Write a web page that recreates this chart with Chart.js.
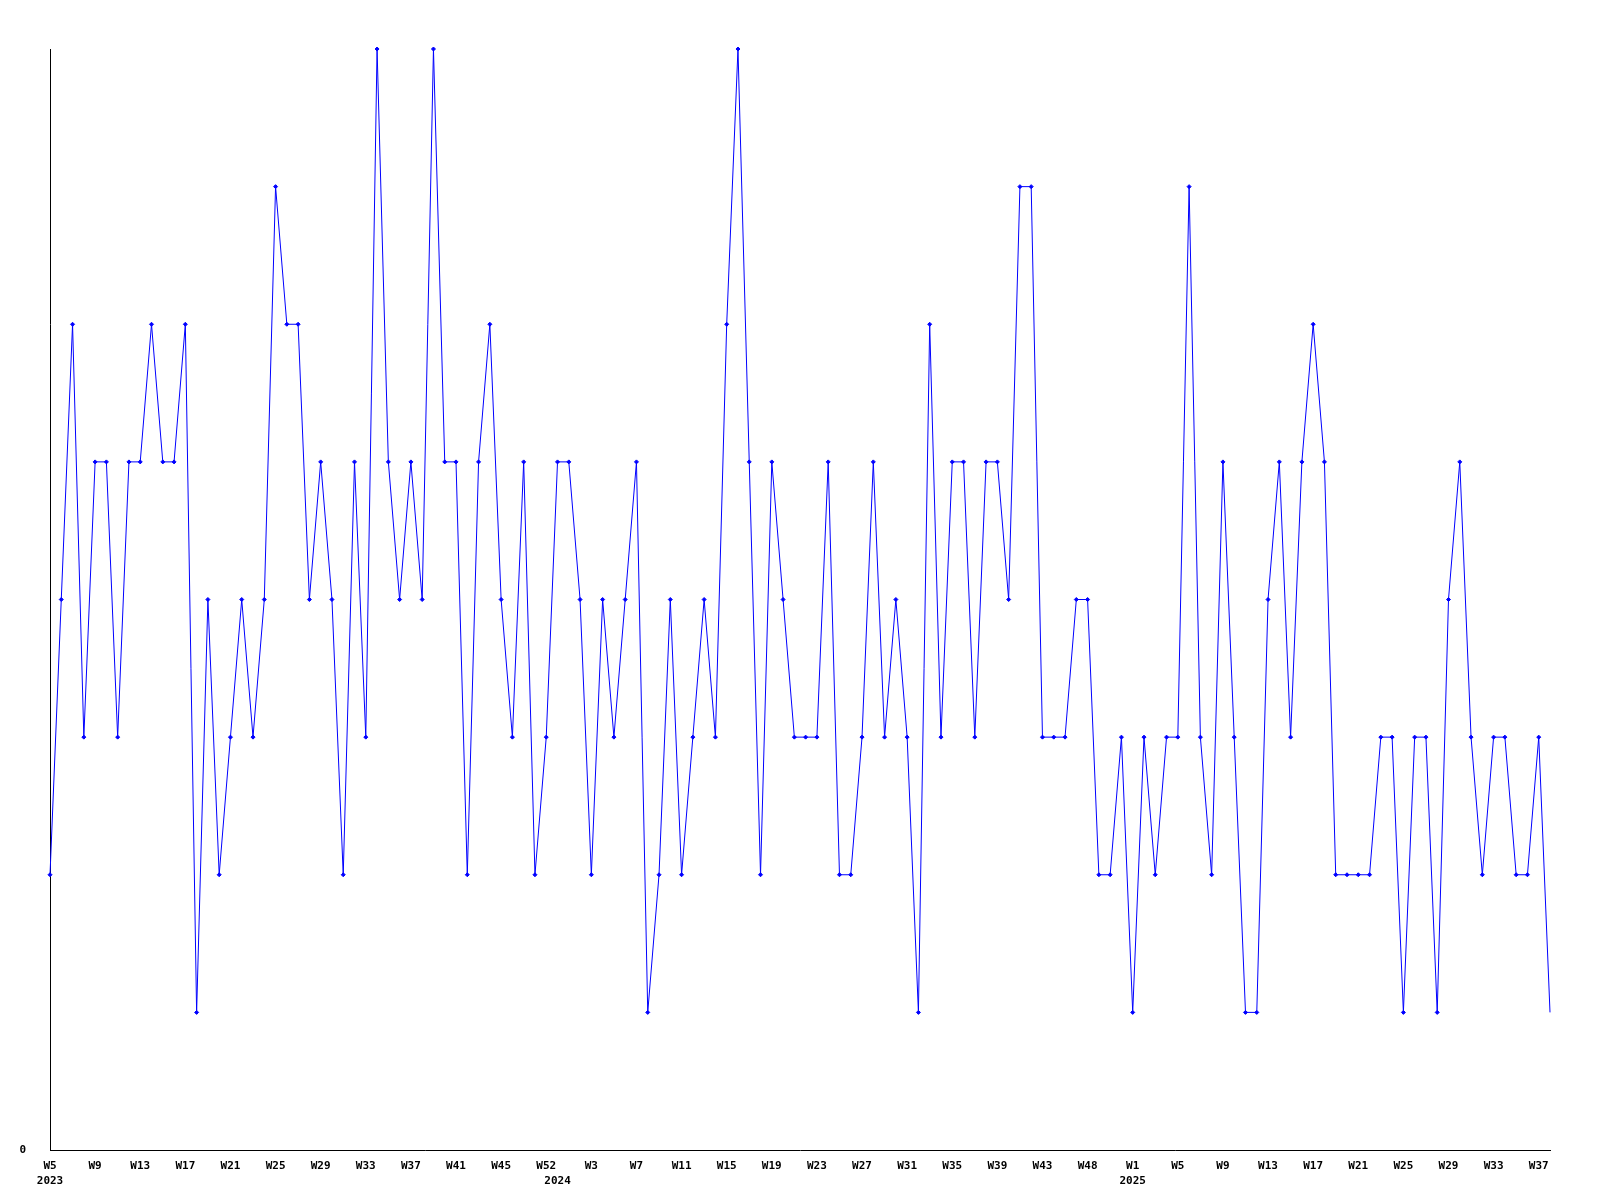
<!DOCTYPE html>
<html>
<head>
<meta charset="utf-8">
<script src="https://cdn.jsdelivr.net/npm/chart.js@4"></script>
<style>
html, body { margin: 0; padding: 0; background: #fff; }
</style>
</head>
<body>
<canvas id="chart" width="1600" height="1200"></canvas>
<script>
// Weekly values, 2023 W5 .. 2025 W38 (134 points)
const weekValues = [
    2, 4, 6, 3, 5, 5, 3, 5, 5, 6,
    5, 5, 6, 1, 4, 2, 3, 4, 3, 4,
    7, 6, 6, 4, 5, 4, 2, 5, 3, 8,
    5, 4, 5, 4, 8, 5, 5, 2, 5, 6,
    4, 3, 5, 2, 3, 5, 5, 4, 2, 4,
    3, 4, 5, 1, 2, 4, 2, 3, 4, 3,
    6, 8, 5, 2, 5, 4, 3, 3, 3, 5,
    2, 2, 3, 5, 3, 4, 3, 1, 6, 3,
    5, 5, 3, 5, 5, 4, 7, 7, 3, 3,
    3, 4, 4, 2, 2, 3, 1, 3, 2, 3,
    3, 7, 3, 2, 5, 3, 1, 1, 4, 5,
    3, 5, 6, 5, 2, 2, 2, 2, 3, 3,
    1, 3, 3, 1, 4, 5, 3, 2, 3, 3,
    2, 2, 3, 1
];

// Week labels shown on every 4th point
const tickWeeks = [
    'W5', 'W9', 'W13', 'W17', 'W21', 'W25', 'W29', 'W33', 'W37', 'W41', 'W45', 'W52',
    'W3', 'W7', 'W11', 'W15', 'W19', 'W23', 'W27', 'W31', 'W35', 'W39', 'W43', 'W48',
    'W1', 'W5', 'W9', 'W13', 'W17', 'W21', 'W25', 'W29', 'W33', 'W37'
];
const tickStep = 4;

// Year labels (second row) and the point they sit under
const yearNames = ['2023', '2024', '2025'];
const yearIndex = [0, 45, 96];

const yMax = 8;

const labels = weekValues.map((v, i) => i);
const tickFont = { family: 'DejaVu Sans Mono', size: 11, weight: 'bold', lineHeight: 1.4 };

const ctx = document.getElementById('chart').getContext('2d');
new Chart(ctx, {
    type: 'line',
    data: {
        labels: labels,
        datasets: [{
            data: weekValues,
            borderColor: '#0000ff',
            borderWidth: 1,
            tension: 0,
            clip: false,
            pointStyle: 'rectRot',
            // last point sits on the right edge without a marker
            pointRadius: c => c.dataIndex === weekValues.length - 1 ? 0 : 2,
            pointBorderWidth: 1,
            pointBackgroundColor: '#0000ff',
            pointBorderColor: '#0000ff'
        }]
    },
    options: {
        responsive: false,
        animation: false,
        layout: { padding: { top: 49, right: 50, left: 0, bottom: 0 } },
        plugins: {
            legend: { display: false },
            tooltip: { enabled: false }
        },
        scales: {
            x: {
                grid: { display: false },
                border: { display: true, color: '#000', width: 1 },
                ticks: {
                    autoSkip: false,
                    maxRotation: 0,
                    padding: 0,
                    color: '#000',
                    font: tickFont,
                    callback: function(val, i) {
                        const week = i % tickStep === 0 ? tickWeeks[i / tickStep] : '';
                        const y = yearIndex.indexOf(i);
                        if (y >= 0) return [week, yearNames[y]];
                        return week;
                    }
                },
                afterFit: function(scale) { scale.height = 50; }
            },
            y: {
                min: 0,
                max: yMax,
                grid: { display: false },
                border: { display: true, color: '#000', width: 1 },
                ticks: {
                    stepSize: 1,
                    padding: 16,
                    color: '#000',
                    font: tickFont,
                    callback: function(v) { return v === 0 ? '0' : ''; }
                },
                afterFit: function(scale) { scale.width = 50; }
            }
        }
    }
});
</script>
</body>
</html>
